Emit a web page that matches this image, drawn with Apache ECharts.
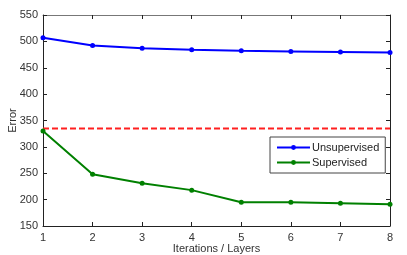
<!DOCTYPE html>
<html><head><meta charset="utf-8">
<script src="https://cdn.jsdelivr.net/npm/echarts@6/dist/echarts.min.js"></script>
<style>html,body{margin:0;padding:0;background:#fff}#c{width:407px;height:255px}</style>
</head><body><div id="c"></div>
<script>
const iterations = [1, 2, 3, 4, 5, 6, 7, 8];
const unsupervised = [507, 492, 487, 484, 482, 481, 480, 479];
const supervised = [330, 248, 231, 218, 195, 195, 193, 191];
const baseline = 335;
const xTicks = [1, 2, 3, 4, 5, 6, 7, 8];
const yTicks = [150, 200, 250, 300, 350, 400, 450, 500, 550];

const font = 'Liberation Sans';
const txt = '#333';
const chart = echarts.init(document.getElementById('c'));
const pairs = arr => iterations.map((x, i) => [x, arr[i]]);
const axisCommon = {
  type: 'value',
  axisLine: { show: true, lineStyle: { color: '#222', width: 1 } },
  axisTick: { show: true, inside: true, length: 4, lineStyle: { color: '#222' } },
  splitLine: { show: false },
  axisLabel: { color: txt, fontFamily: font, fontSize: 11 }
};
chart.setOption({
  animation: false,
  grid: { left: 43, right: 17, top: 15, bottom: 29, containLabel: false, outerBoundsMode: 'none' },
  xAxis: [
    Object.assign({}, axisCommon, { position: 'bottom', min: xTicks[0], max: xTicks[xTicks.length-1], interval: 1,
      name: 'Iterations / Layers', nameLocation: 'middle', nameGap: 17, nameMoveOverlap: false,
      nameTextStyle: { color: txt, fontFamily: font, fontSize: 11 },
      axisLabel: { color: txt, fontFamily: font, fontSize: 11, margin: 6 } }),
    Object.assign({}, axisCommon, { position: 'top', min: xTicks[0], max: xTicks[xTicks.length-1], interval: 1,
      axisLine: { show: true, lineStyle: { color: '#777', width: 1 } },
      axisLabel: { show: false } })
  ],
  yAxis: [
    Object.assign({}, axisCommon, { position: 'left', min: yTicks[0], max: yTicks[yTicks.length-1], interval: 50,
      name: 'Error', nameLocation: 'middle', nameGap: 25, nameRotate: 90, nameMoveOverlap: false,
      nameTextStyle: { color: txt, fontFamily: font, fontSize: 11 },
      axisLabel: { color: txt, fontFamily: font, fontSize: 11, margin: 5 } }),
    Object.assign({}, axisCommon, { position: 'right', min: yTicks[0], max: yTicks[yTicks.length-1], interval: 50,
      axisLabel: { show: false } })
  ],
  legend: {
    left: 270, top: 137, width: 111, height: 36, orient: 'vertical',
    data: ['Unsupervised', 'Supervised'],
    backgroundColor: '#fff', borderColor: '#444', borderWidth: 1, borderRadius: 0,
    padding: [5, 6, 5, 6], itemGap: 4, itemWidth: 33, itemHeight: 6,
    textStyle: { color: '#222', fontFamily: font, fontSize: 11, padding: [0, 0, 0, -3] }
  },
  series: [
    { name: 'Unsupervised', type: 'line', data: pairs(unsupervised), color: '#0000ff',
      lineStyle: { width: 2 }, symbol: 'circle', symbolSize: 5, showSymbol: true, z: 3 },
    { name: 'Supervised', type: 'line', data: pairs(supervised), color: '#008000',
      lineStyle: { width: 2 }, symbol: 'circle', symbolSize: 5, showSymbol: true, z: 3 },
    { name: 'Baseline', type: 'line', data: [[iterations[0], baseline], [iterations[iterations.length-1], baseline]],
      color: '#ff2020', lineStyle: { width: 2, type: [6, 3] }, symbol: 'none', z: 2 }
  ]
});
</script></body></html>
